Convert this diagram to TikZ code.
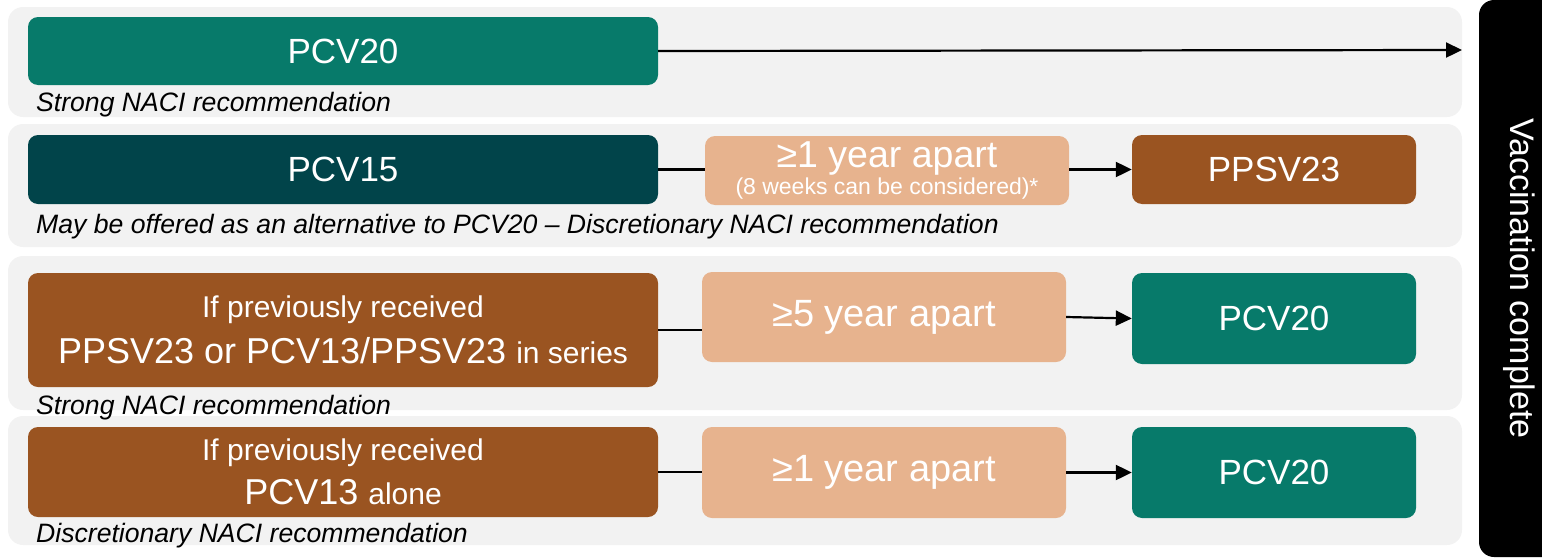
\documentclass[tikz,border=0pt]{standalone}
\usepackage{fontspec}
\setmainfont{Liberation Sans}
\usetikzlibrary{arrows.meta}

\definecolor{panelgrey}{HTML}{F2F2F2}
\definecolor{pcvteal}{HTML}{077A6A}
\definecolor{pcvdark}{HTML}{01444A}
\definecolor{rust}{HTML}{9A5421}
\definecolor{peach}{HTML}{E7B38E}

\newcommand{\fsz}[2]{\fontsize{#1}{#2}\selectfont}

\begin{document}
\begin{tikzpicture}[x=1pt,y=-1pt,
  panel/.style={fill=panelgrey, rounded corners=15pt},
  box/.style={rounded corners=10pt, inner sep=0pt, text=white, align=center,
              font=\fsz{35}{46}},
  vaxbox/.style={box, minimum width=284pt},
  priorbox/.style={box, fill=rust, minimum width=630pt},
  gapbox/.style={box, fill=peach, minimum width=364pt},
  lbl/.style={anchor=base west, inner sep=0pt, font=\fsz{26.6}{30}\itshape},
  link/.style={line width=2.2pt},
  conn/.style={link, -{Triangle[length=16pt,width=15pt]}}
]
\useasboundingbox (0,0) rectangle (1542,557);

% grey row panels
\fill[panel] (8,7) rectangle (1462,117);
\fill[panel] (8,124) rectangle (1462,247);
\fill[panel] (8,256) rectangle (1462,410);
\fill[panel] (8,416) rectangle (1462,545);

% side bar
\node[fill=black, rounded corners=15pt, rotate=-90, minimum width=557pt,
      minimum height=80pt, inner sep=0pt, text=white, font=\fsz{34}{40}]
      (done) at (1519,278.5) {Vaccination complete};
\coordinate (end1) at (1462,50);

% row 1
\node[box, fill=pcvteal, minimum width=630pt, minimum height=68pt] (v1) at (343,51) {PCV20};
\node[lbl] (l1) at (36,111) {Strong NACI recommendation};

% row 2
\node[box, fill=pcvdark, minimum width=630pt, minimum height=69pt] (v2) at (343,169.5) {PCV15};
\node[gapbox, minimum height=69pt, font=\fsz{37.5}{27}] (p2) at (887,170.5)
  {≥1 year apart\\{\fsz{23}{27}(8 weeks can be considered)*}};
\node[vaxbox, fill=rust, minimum height=69pt] (s2) at (1274,169.5) {PPSV23};
\node[lbl] (l2) at (36,233) {May be offered as an alternative to PCV20 – Discretionary NACI recommendation};

% row 3
\node[priorbox, minimum height=114pt, font=\fsz{36}{46}] (b3) at (343,330)
  {{\fsz{30}{46}If previously received}\\PPSV23 or PCV13/PPSV23 {\fsz{30}{46}in series}};
\node[gapbox, minimum height=90pt, font=\fsz{38}{46}] (p3) at (884,317) {≥5 year apart};
\node[vaxbox, fill=pcvteal, minimum height=91pt] (t3) at (1274,318.5) {PCV20};
\node[lbl] (l3) at (36,414) {Strong NACI recommendation};

% row 4
\node[priorbox, minimum height=90pt, font=\fsz{36}{44}] (b4) at (343,472)
  {{\fsz{30}{44}If previously received}\\PCV13 {\fsz{30}{44}alone}};
\node[gapbox, minimum height=91pt, font=\fsz{38}{46}] (p4) at (884,472.5) {≥1 year apart};
\node[vaxbox, fill=pcvteal, minimum height=91pt] (t4) at (1274,472.5) {PCV20};
\node[lbl] (l4) at (36,542) {Discretionary NACI recommendation};

% connectors
\draw[conn] (v1.east) -- (end1);
\draw[link] (v2.east) -- (p2.west |- v2.east);
\draw[conn] (p2.east |- s2.west) -- (s2.west);
\draw[link] (b3.east) -- (p3.west |- b3.east);
\draw[conn] (p3.east) -- (t3.west);
\draw[link] (b4.east) -- (p4.west |- b4.east);
\draw[conn] (p4.east) -- (t4.west);
\end{tikzpicture}
\end{document}
